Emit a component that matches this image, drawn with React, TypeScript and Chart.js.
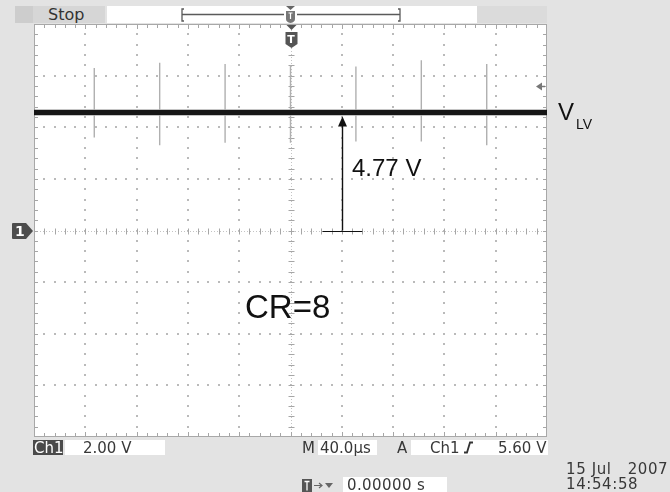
import React, { useEffect, useRef } from "react";
import { Chart, registerables } from "chart.js";
Chart.register(...registerables);

const timeMin = -200; // µs
const timeMax = 200;
const timePerDiv = 40;
const voltMin = -8; // V
const voltMax = 8;
const voltPerDiv = 2;
const traceLevel = 4.57;
const spikeTimes = [-153, -102, -51, 0, 51, 102, 153];
const spikeTops = [6.3, 6.5, 6.45, 6.4, 6.35, 6.6, 6.45];
const spikeBottoms = [3.6, 3.3, 3.4, 3.4, 3.45, 3.45, 3.3];
const arrowTime = 40;
const arrowTip = 4.42;
const arrowBaseFrom = 25;
const arrowBaseTo = 56;
const triggerLevel = 5.6;

const W = 670;
const H = 492;

const graticule = {
  id: "graticule",
  beforeDraw(chart: any) {
    const { ctx, chartArea: a } = chart;
    ctx.save();
    ctx.fillStyle = "#ffffff";
    ctx.fillRect(a.left, a.top, a.right - a.left, a.bottom - a.top);
    ctx.restore();
  },
  beforeDatasetsDraw(chart: any) {
    const { ctx, chartArea: a, scales } = chart;
    const xs = scales.x;
    const ys = scales.y;
    ctx.save();
    const nx = Math.round((timeMax - timeMin) / timePerDiv);
    const ny = Math.round((voltMax - voltMin) / voltPerDiv);
    ctx.fillStyle = "#bababa";
    for (let i = 1; i < nx; i++) {
      const t = timeMin + i * timePerDiv;
      if (t === 0) continue;
      const px = Math.round(xs.getPixelForValue(t));
      for (let j = 1; j < ny * 5; j++) {
        const py = Math.round(ys.getPixelForValue(voltMin + (j * voltPerDiv) / 5));
        ctx.fillRect(px - 1, py - 1, 2, 2);
      }
    }
    for (let j = 1; j < ny; j++) {
      const v = voltMin + j * voltPerDiv;
      if (v === 0) continue;
      const py = Math.round(ys.getPixelForValue(v));
      for (let i = 1; i < nx * 5; i++) {
        const px = Math.round(xs.getPixelForValue(timeMin + (i * timePerDiv) / 5));
        ctx.fillRect(px - 1, py - 1, 2, 2);
      }
    }
    const cx = Math.round(xs.getPixelForValue(0)) + 0.5;
    const cy = Math.round(ys.getPixelForValue(0)) + 0.5;
    ctx.strokeStyle = "#c4c4c4";
    ctx.lineWidth = 1;
    ctx.setLineDash([1, 2]);
    ctx.beginPath();
    ctx.moveTo(a.left, cy);
    ctx.lineTo(a.right, cy);
    ctx.moveTo(cx, a.top);
    ctx.lineTo(cx, a.bottom);
    ctx.stroke();
    ctx.setLineDash([]);
    ctx.strokeStyle = "#a6a6a6";
    ctx.beginPath();
    for (let i = 1; i < nx * 5; i++) {
      const px = Math.round(xs.getPixelForValue(timeMin + (i * timePerDiv) / 5)) + 0.5;
      ctx.moveTo(px, cy - 3);
      ctx.lineTo(px, cy + 3);
      ctx.moveTo(px, a.top);
      ctx.lineTo(px, a.top + (i % 5 === 0 ? 5 : 4));
      ctx.moveTo(px, a.bottom);
      ctx.lineTo(px, a.bottom - (i % 5 === 0 ? 5 : 4));
    }
    for (let j = 1; j < ny * 5; j++) {
      const py = Math.round(ys.getPixelForValue(voltMin + (j * voltPerDiv) / 5)) + 0.5;
      ctx.moveTo(cx - 3, py);
      ctx.lineTo(cx + 3, py);
      ctx.moveTo(a.left, py);
      ctx.lineTo(a.left + 4, py);
      ctx.moveTo(a.right, py);
      ctx.lineTo(a.right - 4, py);
    }
    ctx.stroke();
    ctx.strokeStyle = "#a8a8a8";
    ctx.strokeRect(a.left + 0.5, a.top + 0.5, a.right - a.left - 1, a.bottom - a.top - 1);
    ctx.restore();
  },
  afterDatasetsDraw(chart: any) {
    const { ctx, chartArea: a, scales } = chart;
    const xs = scales.x;
    const ys = scales.y;
    ctx.save();
    const ax = Math.round(xs.getPixelForValue(arrowTime)) + 0.5;
    const y0 = ys.getPixelForValue(0);
    const y1 = ys.getPixelForValue(arrowTip);
    ctx.strokeStyle = "#111";
    ctx.fillStyle = "#111";
    ctx.lineWidth = 1.4;
    ctx.beginPath();
    ctx.moveTo(ax, y0);
    ctx.lineTo(ax, y1 + 6);
    ctx.stroke();
    ctx.beginPath();
    ctx.moveTo(ax, y1);
    ctx.lineTo(ax - 4.5, y1 + 10);
    ctx.lineTo(ax + 4.5, y1 + 10);
    ctx.closePath();
    ctx.fill();
    ctx.lineWidth = 1.2;
    ctx.beginPath();
    ctx.moveTo(xs.getPixelForValue(arrowBaseFrom), Math.round(y0) + 0.5);
    ctx.lineTo(xs.getPixelForValue(arrowBaseTo), Math.round(y0) + 0.5);
    ctx.stroke();
    const ty = Math.round(ys.getPixelForValue(triggerLevel)) + 0.5;
    ctx.fillStyle = "#777";
    ctx.strokeStyle = "#777";
    ctx.lineWidth = 1.5;
    ctx.beginPath();
    ctx.moveTo(a.right - 6, ty);
    ctx.lineTo(a.right - 2, ty);
    ctx.stroke();
    ctx.beginPath();
    ctx.moveTo(a.right - 11, ty);
    ctx.lineTo(a.right - 5, ty - 4);
    ctx.lineTo(a.right - 5, ty + 4);
    ctx.closePath();
    ctx.fill();
    const tx = Math.round(xs.getPixelForValue(0)) + 0.5;
    ctx.fillStyle = "#555";
    ctx.beginPath();
    ctx.moveTo(tx - 5, a.top + 1);
    ctx.lineTo(tx + 5, a.top + 1);
    ctx.lineTo(tx, a.top + 6);
    ctx.closePath();
    ctx.fill();
    ctx.beginPath();
    ctx.moveTo(tx - 6, a.top + 8);
    ctx.lineTo(tx + 6, a.top + 8);
    ctx.lineTo(tx + 6, a.top + 20);
    ctx.lineTo(tx, a.top + 24);
    ctx.lineTo(tx - 6, a.top + 20);
    ctx.closePath();
    ctx.fill();
    ctx.restore();
  },
};

export default function App() {
  const ref = useRef<HTMLCanvasElement | null>(null);
  const gndY = 230.5;

  useEffect(() => {
    if (!ref.current) return;
    const spikeData: any[] = [];
    spikeTimes.forEach((t, i) => {
      spikeData.push({ x: t, y: spikeTops[i] });
      spikeData.push({ x: t, y: spikeBottoms[i] });
      spikeData.push({ x: t, y: null });
    });
    const traceData = [
      { x: timeMin, y: traceLevel },
      { x: timeMax, y: traceLevel },
    ];
    const chart = new Chart(ref.current, {
      type: "line",
      data: {
        datasets: [
          {
            label: "VLV",
            data: traceData,
            borderColor: "#161616",
            borderWidth: 5,
            pointRadius: 0,
            order: 0,
          },
          {
            label: "spikes",
            data: spikeData,
            borderColor: "#b0b0b0",
            borderWidth: 1.4,
            pointRadius: 0,
            spanGaps: false,
            order: 1,
          },
          {
            label: "noise",
            data: traceData,
            borderColor: "rgba(60,60,60,0.3)",
            borderWidth: 7,
            pointRadius: 0,
            order: 2,
          },
        ],
      },
      options: {
        responsive: false,
        maintainAspectRatio: false,
        animation: false,
        events: [],
        layout: { padding: { left: 34, top: 24, right: 123, bottom: 55 } },
        scales: {
          x: { type: "linear", min: timeMin, max: timeMax, display: false },
          y: { type: "linear", min: voltMin, max: voltMax, display: false },
        },
        plugins: { legend: { display: false }, tooltip: { enabled: false } },
      } as any,
      plugins: [graticule as any],
    });
    return () => chart.destroy();
  }, []);

  const ui: React.CSSProperties = {
    position: "absolute",
    fontFamily: "'DejaVu Sans', sans-serif",
    fontSize: 15,
    lineHeight: 1,
    color: "#383838",
    whiteSpace: "pre",
  };
  const ann: React.CSSProperties = {
    position: "absolute",
    fontFamily: "'Liberation Sans', Arial, sans-serif",
    lineHeight: 1,
    color: "#111",
    whiteSpace: "pre",
  };
  const box = (left: number, top: number, width: number, height: number, bg: string): React.CSSProperties => ({
    position: "absolute",
    left,
    top,
    width,
    height,
    background: bg,
  });

  return (
    <div
      style={{
        position: "fixed",
        left: 0,
        top: 0,
        width: W,
        height: H,
        background: "#e3e3e3",
        overflow: "hidden",
      }}
    >
      <div style={box(15, 6, 18, 17, "#cdcdcd")} />
      <div style={box(33, 6, 72, 17, "#d6d6d6")} />
      <div style={{ ...ui, left: 48, top: 7, fontSize: 16, color: "#333" }}>Stop</div>
      <div style={box(107, 6, 370, 17, "#ffffff")} />
      <div style={box(477, 6, 70, 17, "#dbdbdb")} />
      <svg width={W} height={30} style={{ position: "absolute", left: 0, top: 0 }}>
        <g stroke="#5a5a5a" strokeWidth={1.3} fill="none">
          <line x1={182} y1={14.5} x2={284} y2={14.5} />
          <line x1={297} y1={14.5} x2={400} y2={14.5} />
          <polyline points="184,9 182,9 182,21 184,21" />
          <polyline points="398,9 400,9 400,21 398,21" />
        </g>
        <polygon points="286,6 295,6 290.5,10" fill="#666" />
        <path d="M286,11 h9 v8 q0,3 -4.5,4 q-4.5,-1 -4.5,-4 z" fill="#777" />
        <path d="M288.5,13 h4 M290.5,13 v6" stroke="#fff" strokeWidth={1.2} />
      </svg>

      <canvas ref={ref} width={W} height={H} style={{ position: "absolute", left: 0, top: 0, width: W, height: H }} />

      <div style={{ ...ui, left: 285, top: 34, fontSize: 11, fontWeight: "bold", color: "#fff", width: 12, textAlign: "center" }}>T</div>
      <svg width={34} height={20} style={{ position: "absolute", left: 0, top: gndY - 10 }}>
        <path d="M13,2 h13 l7,8 l-7,8 h-13 q-1,0 -1,-1 v-14 q0,-1 1,-1 z" fill="#4d4d4d" />
      </svg>
      <div style={{ ...ui, left: 15, top: gndY - 7, fontSize: 14, fontWeight: "bold", color: "#fff" }}>1</div>

      <div style={{ ...ann, left: 558, top: 99.6, fontSize: 24 }}>V</div>
      <div style={{ ...ann, left: 576, top: 116.5, fontSize: 14 }}>LV</div>
      <div style={{ ...ann, left: 352, top: 156.4, fontSize: 24 }}>4.77 V</div>
      <div style={{ ...ann, left: 245, top: 290.4, fontSize: 33 }}>CR=8</div>

      <div style={box(33, 440, 30, 15, "#4a4a4a")} />
      <div style={{ ...ui, left: 34, top: 440.5, color: "#fff", fontSize: 15 }}>Ch1</div>
      <div style={box(65, 440, 100, 15, "#ffffff")} />
      <div style={{ ...ui, left: 83, top: 440.5 }}>2.00 V</div>
      <div style={{ ...ui, left: 302, top: 440.5 }}>M</div>
      <div style={box(318, 440, 59, 15, "#ffffff")} />
      <div style={{ ...ui, left: 320, top: 440.5 }}>40.0µs</div>
      <div style={{ ...ui, left: 397, top: 440.5 }}>A</div>
      <div style={box(411, 440, 137, 15, "#ffffff")} />
      <div style={{ ...ui, left: 430, top: 440.5 }}>Ch1</div>
      <svg width={14} height={15} style={{ position: "absolute", left: 462, top: 440 }}>
        <path d="M2,12.5 h3 l3,-10 h3" stroke="#333" strokeWidth={1.8} fill="none" />
      </svg>
      <div style={{ ...ui, left: 498, top: 440.5 }}>5.60 V</div>

      <svg width={40} height={15} style={{ position: "absolute", left: 301, top: 478 }}>
        <rect x={1} y={1} width={10} height={13} fill="#555" />
        <path d="M3.5,3.5 h5 M6,3.5 v9" stroke="#fff" strokeWidth={1.3} />
        <path d="M13,7.5 h8 M18,5 l3,2.5 l-3,2.5" stroke="#666" strokeWidth={1.2} fill="none" />
        <polygon points="24,5 32,5 28,10" fill="#666" />
      </svg>
      <div style={box(343, 477, 104, 15, "#ffffff")} />
      <div style={{ ...ui, left: 347, top: 477.5, letterSpacing: 0.4 }}>0.00000 s</div>
      <div style={{ ...ui, left: 566, top: 462.3, letterSpacing: 0.6 }}>15 Jul   2007</div>
      <div style={{ ...ui, left: 566, top: 477.3, letterSpacing: 0.6 }}>14:54:58</div>
    </div>
  );
}
